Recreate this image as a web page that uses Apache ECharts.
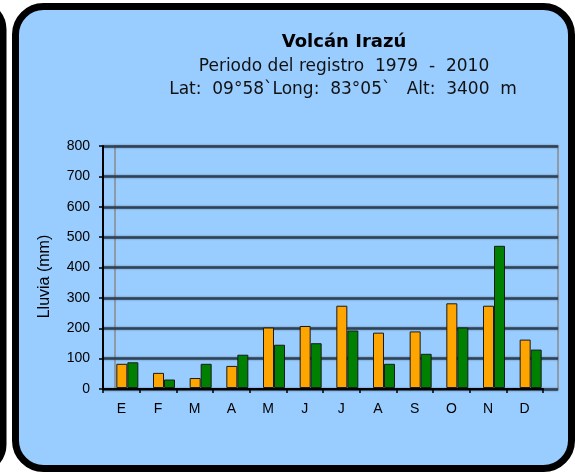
<!DOCTYPE html>
<html>
<head>
<meta charset="utf-8">
<script src="https://cdn.jsdelivr.net/npm/echarts@6/dist/echarts.min.js"></script>
<style>
  html, body { margin: 0; padding: 0; background: #ffffff; }
  #chart { width: 575px; height: 474px; }
</style>
</head>
<body>
<div id="chart"></div>
<script>
// lluvia mensual (mm)
const meses = ["E", "F", "M", "A", "M", "J", "J", "A", "S", "O", "N", "D"];
const serieNaranja = [80, 50, 33, 73, 200, 205, 272, 183, 187, 280, 272, 160];
const serieVerde = [85, 28, 80, 110, 143, 148, 190, 80, 113, 200, 470, 127];
const ticksY = [0, 100, 200, 300, 400, 500, 600, 700, 800];

const yMin = ticksY[0];
const yMax = ticksY[ticksY.length - 1];
const yStep = ticksY[1] - ticksY[0];

const chart = echarts.init(document.getElementById("chart"));

const hidden = { show: false };
const tituloFuente = "DejaVu Sans";

chart.setOption({
  animation: false,
  backgroundColor: "#ffffff",
  textStyle: { fontFamily: "Liberation Sans" },
  graphic: [
    // panel vecino a la izquierda
    {
      type: "rect",
      z: -10,
      shape: { x: -60, y: 3.5, width: 63, height: 467, r: 26 },
      style: { fill: "#99ccff", stroke: "#000", lineWidth: 7 },
    },
    // recuadro principal
    {
      type: "rect",
      z: -10,
      shape: { x: 15.5, y: 6.5, width: 556, height: 462, r: 28 },
      style: { fill: "#99ccff", stroke: "#000", lineWidth: 7 },
    },
  ],
  title: [
    {
      text: "Volcán Irazú",
      left: 339,
      top: 28,
      textAlign: "center",
      textStyle: { fontFamily: tituloFuente, fontWeight: "bold", fontSize: 18, color: "#000" },
    },
    {
      text: "Periodo del registro  1979  -  2010",
      left: 339,
      top: 53,
      textAlign: "center",
      textStyle: { fontFamily: tituloFuente, fontWeight: "normal", fontSize: 17, color: "#111" },
    },
    {
      text: "Lat:  09°58`Long:  83°05`   Alt:  3400  m",
      left: 338,
      top: 76,
      textAlign: "center",
      textStyle: { fontFamily: tituloFuente, fontWeight: "normal", fontSize: 17, color: "#111" },
    },
  ],
  grid: [
    // ejes frontales
    { left: 103, right: 32, top: 146, bottom: 85 },
    // pared del fondo
    {
      left: 115, right: 17, top: 146, bottom: 85,
      show: true, borderColor: "#8e9aa6", borderWidth: 2, backgroundColor: "transparent",
    },
    // lineas de division
    { left: 103, right: 17, top: 146, bottom: 85 },
    // barras
    { left: 109, right: 26, top: 146, bottom: 86 },
  ],
  xAxis: [
    {
      gridIndex: 0,
      type: "category",
      data: meses,
      axisLine: { lineStyle: { color: "#000", width: 2 } },
      axisTick: { show: true, length: 4, lineStyle: { color: "#000", width: 1.5 } },
      axisLabel: { color: "#000", fontSize: 14, margin: 13 },
      splitLine: hidden,
    },
    { gridIndex: 1, type: "category", data: meses, show: false },
    { gridIndex: 2, type: "category", data: meses, show: false },
    { gridIndex: 3, type: "category", data: meses, show: false },
  ],
  yAxis: [
    {
      gridIndex: 0,
      type: "value",
      min: yMin,
      max: yMax,
      interval: yStep,
      name: "Lluvia (mm)",
      nameLocation: "middle",
      nameGap: 50,
      nameTextStyle: { color: "#000", fontSize: 16, padding: [0, 18, 0, 0] },
      axisLine: { show: true, lineStyle: { color: "#000", width: 2 } },
      axisTick: { show: true, length: 4, lineStyle: { color: "#000", width: 1.5 } },
      axisLabel: { color: "#000", fontSize: 14, margin: 13 },
      splitLine: hidden,
    },
    { gridIndex: 1, type: "value", min: yMin, max: yMax, interval: yStep, show: false, splitLine: hidden },
    {
      gridIndex: 2,
      type: "value",
      min: yMin,
      max: yMax,
      interval: yStep,
      axisLine: hidden,
      axisTick: hidden,
      axisLabel: hidden,
      splitLine: {
        show: true,
        lineStyle: { color: "#2f4155", width: 2.5, shadowColor: "rgba(20,30,45,0.5)", shadowBlur: 2 },
      },
    },
    { gridIndex: 3, type: "value", min: yMin, max: yMax, interval: yStep, show: false, splitLine: hidden },
  ],
  series: [
    {
      type: "bar",
      xAxisIndex: 3,
      yAxisIndex: 3,
      data: serieNaranja,
      barWidth: 11,
      barGap: "0%",
      itemStyle: { color: "#ffa500", borderColor: "#1a1a1a", borderWidth: 1 },
    },
    {
      type: "bar",
      xAxisIndex: 3,
      yAxisIndex: 3,
      data: serieVerde,
      barWidth: 11,
      barGap: "0%",
      itemStyle: { color: "#008000", borderColor: "#1a1a1a", borderWidth: 1 },
    },
  ],
});
</script>
</body>
</html>
